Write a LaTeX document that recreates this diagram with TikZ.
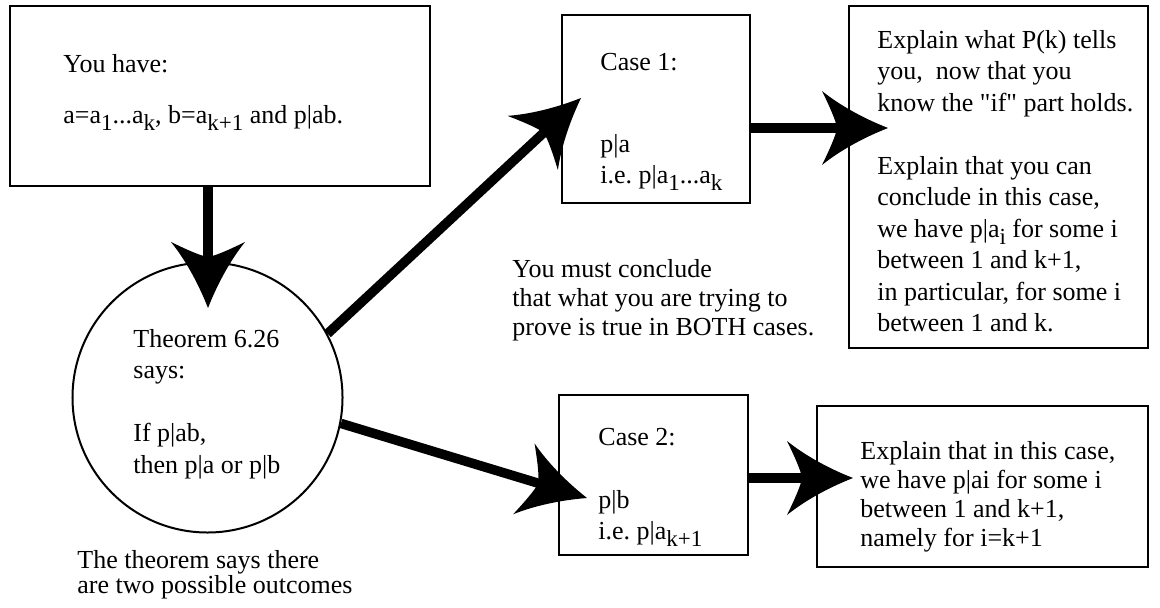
\documentclass[tikz,border=0pt]{standalone}
\usepackage{fontspec}
\setmainfont{Liberation Serif}
\usetikzlibrary{arrows.meta}
\frenchspacing

\pgfdeclarearrow{
  name = Swoop,
  parameters = {\the\pgfarrowlength,\the\pgfarrowwidth},
  setup code = {
    \pgfarrowssettipend{0pt}
    \pgfarrowssetlineend{-.55\pgfarrowlength}
    \pgfarrowssetbackend{-\pgfarrowlength}
    \pgfarrowssavethe\pgfarrowlength
    \pgfarrowssavethe\pgfarrowwidth
  },
  drawing code = {
    \pgfpathmoveto{\pgfpointorigin}
    \pgfpathcurveto{\pgfpoint{-.4\pgfarrowlength}{.14\pgfarrowwidth}}{\pgfpoint{-.75\pgfarrowlength}{.32\pgfarrowwidth}}{\pgfpoint{-\pgfarrowlength}{.5\pgfarrowwidth}}
    \pgfpathcurveto{\pgfpoint{-.88\pgfarrowlength}{.28\pgfarrowwidth}}{\pgfpoint{-.8\pgfarrowlength}{.12\pgfarrowwidth}}{\pgfpoint{-.77\pgfarrowlength}{0pt}}
    \pgfpathcurveto{\pgfpoint{-.8\pgfarrowlength}{-.12\pgfarrowwidth}}{\pgfpoint{-.88\pgfarrowlength}{-.28\pgfarrowwidth}}{\pgfpoint{-\pgfarrowlength}{-.5\pgfarrowwidth}}
    \pgfpathcurveto{\pgfpoint{-.75\pgfarrowlength}{-.32\pgfarrowwidth}}{\pgfpoint{-.4\pgfarrowlength}{-.14\pgfarrowwidth}}{\pgfpointorigin}
    \pgfpathclose
    \pgfusepathqfill
  },
  defaults = {length = 33bp, width = 37bp}
}

\newcommand\lowsub[1]{\raisebox{-3.5bp}{\fontsize{11.5bp}{12bp}\selectfont #1}}
\newcommand\capstrut{\rule{0pt}{11bp}}

\begin{document}
\begin{tikzpicture}[x=0.5bp, y=-0.5bp,
  box/.style={draw, line width=1.3bp, inner sep=0pt},
  txt/.style={anchor=north west, inner sep=0pt, align=left, font=\fontsize{13bp}{#1}\selectfont},
  txt/.default=15.75bp,
  bigarrow/.style={line width=4.75bp, -{Swoop}}]

\useasboundingbox (0,0) rectangle (1160,607);

\node[box, minimum width=210bp, minimum height=90bp] (have) at (220,96) {};
\node[draw, circle, line width=1bp, minimum size=135bp, inner sep=0pt] (thm) at (207.5,397.5) {};
\node[box, minimum width=94bp, minimum height=94bp] (caseA) at (656,109) {};
\node[box, minimum width=94.5bp, minimum height=80bp] (caseB) at (653.5,475) {};
\node[box, minimum width=149.5bp, minimum height=171bp] (expA) at (998.5,177) {};
\node[box, minimum width=165.5bp, minimum height=80.5bp] (expB) at (982.5,486.5) {};

\node[txt] (haveText) at (63,50) {\capstrut You have:\\[10bp]a=a\lowsub{1}...a\lowsub{k}, b=a\lowsub{k+1} and p|ab.};
\node[txt] (thmText) at (133,325) {\capstrut Theorem 6.26\\says:\\[15.75bp]If p|ab,\\then p|a or p|b};
\node[txt=12.5bp] (noteText) at (77,546) {\capstrut The theorem says there\\are two possible outcomes};
\node[txt] (caseAText) at (600,48) {\capstrut Case 1:\\[25.25bp]p|a\\i.e. p|a\lowsub{1}...a\lowsub{k}};
\node[txt] (caseBText) at (598,423) {\capstrut Case 2:\\[15.75bp]p|b\\i.e. p|a\lowsub{k+1}};
\node[txt=14.5bp] (midText) at (512,255) {\capstrut You must conclude\\that what you are trying to\\prove is true in BOTH cases.};
\node[txt] (expAText) at (877,26) {\capstrut Explain what P(k) tells\\you,\ \ now that you\\know the \textquotedbl if\textquotedbl{} part holds.\\[15.75bp]Explain that you can\\conclude in this case,\\we have p|a\lowsub{i} for some i\\between 1 and k+1,\\in particular, for some i\\between 1 and k.};
\node[txt=14.5bp] (expBText) at (860,437) {\capstrut Explain that in this case,\\we have p|ai for some i\\between 1 and k+1,\\namely for i=k+1};

\coordinate (tipThm) at (208,308);
\coordinate (tipCaseA) at (581,98);
\coordinate (tipExpA) at (888,128);
\coordinate (tipCaseB) at (587,498);
\coordinate (tipExpB) at (853,478);

\draw[bigarrow] (have.south -| tipThm) -- (tipThm);
\draw[bigarrow] (thm.28) -- (tipCaseA);
\draw[bigarrow] (caseA.east |- tipExpA) -- (tipExpA);
\draw[bigarrow] (thm.-11) -- (tipCaseB);
\draw[bigarrow] (caseB.east |- tipExpB) -- (tipExpB);
\end{tikzpicture}
\end{document}
